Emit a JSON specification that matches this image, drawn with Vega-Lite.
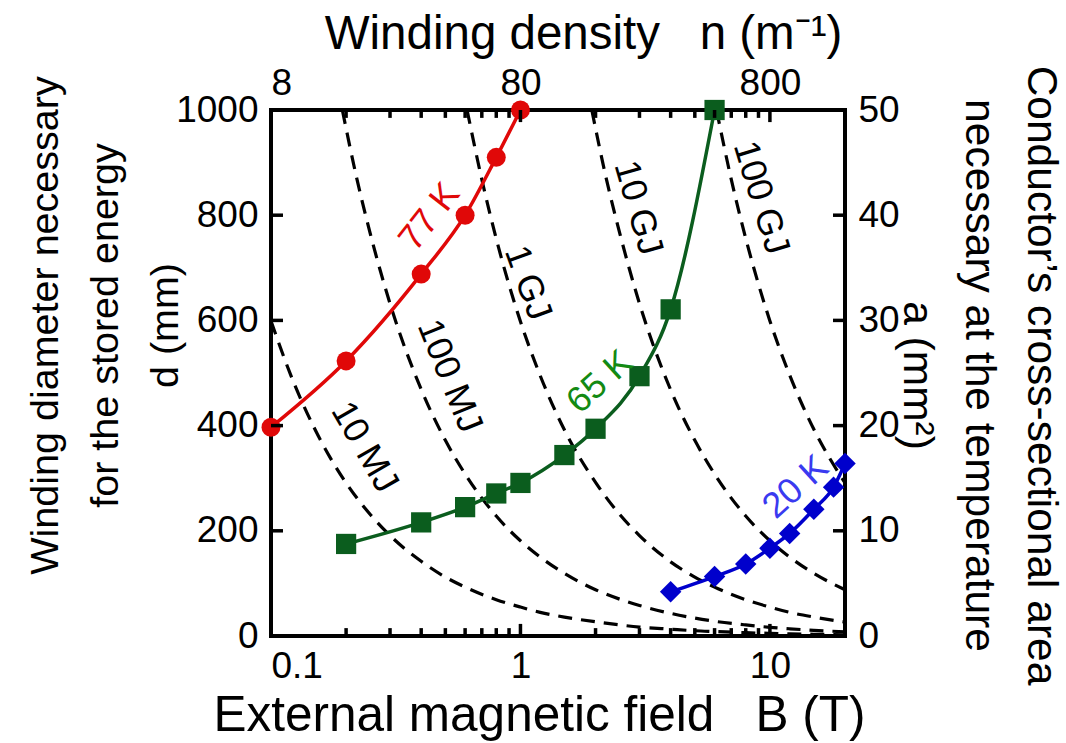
{
  "$schema": "https://vega.github.io/schema/vega-lite/v6.json",
  "width": 574,
  "height": 526,
  "autosize": {"type": "none"},
  "padding": {"left": 271, "top": 110, "right": 221, "bottom": 107},
  "background": "white",
  "config": {
    "font": "Liberation Sans",
    "view": {"stroke": "#000", "strokeWidth": 4},
    "axis": {"domain": false, "grid": false, "ticks": false, "labelColor": "#000", "titleColor": "#000", "labelFont": "Liberation Sans", "titleFont": "Liberation Sans", "labelFontSize": 37, "titleFontWeight": "normal"}
  },
  "datasets": {
    "energy": [
      {"E": "10 MJ", "B": 0.1, "d": 599}, {"E": "10 MJ", "B": 0.12, "d": 496}, {"E": "10 MJ", "B": 0.15, "d": 393}, {"E": "10 MJ", "B": 0.2, "d": 291}, {"E": "10 MJ", "B": 0.25, "d": 231}, {"E": "10 MJ", "B": 0.3, "d": 191}, {"E": "10 MJ", "B": 0.4, "d": 142}, {"E": "10 MJ", "B": 0.5, "d": 112}, {"E": "10 MJ", "B": 0.6, "d": 93}, {"E": "10 MJ", "B": 0.8, "d": 69}, {"E": "10 MJ", "B": 1, "d": 55}, {"E": "10 MJ", "B": 1.2, "d": 45}, {"E": "10 MJ", "B": 1.5, "d": 36}, {"E": "10 MJ", "B": 2, "d": 27}, {"E": "10 MJ", "B": 2.5, "d": 21}, {"E": "10 MJ", "B": 3, "d": 17}, {"E": "10 MJ", "B": 4, "d": 13}, {"E": "10 MJ", "B": 5, "d": 10}, {"E": "10 MJ", "B": 6, "d": 8.5}, {"E": "10 MJ", "B": 8, "d": 6.3}, {"E": "10 MJ", "B": 10, "d": 5}, {"E": "10 MJ", "B": 12, "d": 4.1}, {"E": "10 MJ", "B": 15, "d": 3.3}, {"E": "10 MJ", "B": 20, "d": 2.4},
      {"E": "100 MJ", "B": 0.1932, "d": 1000}, {"E": "100 MJ", "B": 0.22, "d": 873}, {"E": "100 MJ", "B": 0.25, "d": 765}, {"E": "100 MJ", "B": 0.3, "d": 632}, {"E": "100 MJ", "B": 0.4, "d": 469}, {"E": "100 MJ", "B": 0.5, "d": 372}, {"E": "100 MJ", "B": 0.6, "d": 308}, {"E": "100 MJ", "B": 0.8, "d": 228}, {"E": "100 MJ", "B": 1, "d": 181}, {"E": "100 MJ", "B": 1.2, "d": 150}, {"E": "100 MJ", "B": 1.5, "d": 119}, {"E": "100 MJ", "B": 2, "d": 88}, {"E": "100 MJ", "B": 2.5, "d": 70}, {"E": "100 MJ", "B": 3, "d": 58}, {"E": "100 MJ", "B": 4, "d": 43}, {"E": "100 MJ", "B": 5, "d": 34}, {"E": "100 MJ", "B": 6, "d": 28}, {"E": "100 MJ", "B": 8, "d": 21}, {"E": "100 MJ", "B": 10, "d": 16.5}, {"E": "100 MJ", "B": 12, "d": 13.7}, {"E": "100 MJ", "B": 15, "d": 10.8}, {"E": "100 MJ", "B": 20, "d": 8},
      {"E": "1 GJ", "B": 0.611, "d": 1000}, {"E": "1 GJ", "B": 0.7, "d": 868}, {"E": "1 GJ", "B": 0.8, "d": 755}, {"E": "1 GJ", "B": 1, "d": 598}, {"E": "1 GJ", "B": 1.2, "d": 495}, {"E": "1 GJ", "B": 1.5, "d": 392}, {"E": "1 GJ", "B": 2, "d": 292}, {"E": "1 GJ", "B": 2.5, "d": 231}, {"E": "1 GJ", "B": 3, "d": 191}, {"E": "1 GJ", "B": 4, "d": 141}, {"E": "1 GJ", "B": 5, "d": 112}, {"E": "1 GJ", "B": 6, "d": 93}, {"E": "1 GJ", "B": 8, "d": 69}, {"E": "1 GJ", "B": 10, "d": 55}, {"E": "1 GJ", "B": 12, "d": 45}, {"E": "1 GJ", "B": 15, "d": 36}, {"E": "1 GJ", "B": 20, "d": 26.5},
      {"E": "10 GJ", "B": 1.932, "d": 1000}, {"E": "10 GJ", "B": 2.2, "d": 873}, {"E": "10 GJ", "B": 2.5, "d": 766}, {"E": "10 GJ", "B": 3, "d": 632}, {"E": "10 GJ", "B": 4, "d": 468}, {"E": "10 GJ", "B": 5, "d": 372}, {"E": "10 GJ", "B": 6, "d": 308}, {"E": "10 GJ", "B": 8, "d": 228}, {"E": "10 GJ", "B": 10, "d": 181}, {"E": "10 GJ", "B": 12, "d": 150}, {"E": "10 GJ", "B": 15, "d": 119}, {"E": "10 GJ", "B": 20, "d": 88},
      {"E": "100 GJ", "B": 6.11, "d": 1000}, {"E": "100 GJ", "B": 7, "d": 868}, {"E": "100 GJ", "B": 8, "d": 756}, {"E": "100 GJ", "B": 10, "d": 599}, {"E": "100 GJ", "B": 12, "d": 496}, {"E": "100 GJ", "B": 15, "d": 393}, {"E": "100 GJ", "B": 20, "d": 291}
    ],
    "series": [
      {"T": "77 K", "B": 0.1, "d": 397}, {"T": "77 K", "B": 0.2, "d": 523}, {"T": "77 K", "B": 0.4, "d": 688}, {"T": "77 K", "B": 0.6, "d": 800}, {"T": "77 K", "B": 0.8, "d": 910}, {"T": "77 K", "B": 1, "d": 1000},
      {"T": "65 K", "B": 0.2, "d": 175}, {"T": "65 K", "B": 0.4, "d": 216}, {"T": "65 K", "B": 0.6, "d": 245}, {"T": "65 K", "B": 0.8, "d": 271}, {"T": "65 K", "B": 1, "d": 291}, {"T": "65 K", "B": 1.5, "d": 344}, {"T": "65 K", "B": 2, "d": 394}, {"T": "65 K", "B": 3, "d": 494}, {"T": "65 K", "B": 4, "d": 621}, {"T": "65 K", "B": 6, "d": 1000},
      {"T": "20 K", "B": 4, "d": 84}, {"T": "20 K", "B": 6, "d": 113}, {"T": "20 K", "B": 8, "d": 137}, {"T": "20 K", "B": 10, "d": 167}, {"T": "20 K", "B": 12, "d": 195}, {"T": "20 K", "B": 15, "d": 241}, {"T": "20 K", "B": 18, "d": 283}, {"T": "20 K", "B": 20, "d": 328}
    ],
    "labels": [
      {"label": "77 K", "B": 0.4325, "d": 797},
      {"label": "65 K", "B": 2.08, "d": 483},
      {"label": "20 K", "B": 12.7, "d": 283},
      {"label": "10 MJ", "B": 0.237, "d": 359},
      {"label": "100 MJ", "B": 0.52, "d": 494},
      {"label": "1 GJ", "B": 1.07, "d": 671},
      {"label": "10 GJ", "B": 2.96, "d": 814},
      {"label": "100 GJ", "B": 9.21, "d": 833}
    ],
    "minorTicksX": [{"B": 0.2}, {"B": 0.3}, {"B": 0.4}, {"B": 0.5}, {"B": 0.6}, {"B": 0.7}, {"B": 0.8}, {"B": 0.9}, {"B": 2}, {"B": 3}, {"B": 4}, {"B": 5}, {"B": 6}, {"B": 7}, {"B": 8}, {"B": 9}],
    "majorTicksX": [{"B": 1}, {"B": 10}],
    "ticksY": [{"d": 200}, {"d": 400}, {"d": 600}, {"d": 800}],
    "secondary": [{"n": 8, "a": 0}, {"n": 1600, "a": 50}]
  },
  "layer": [
    {
      "layer": [
        {
          "data": {"name": "energy"},
          "mark": {"type": "line", "color": "#000", "strokeWidth": 3.2, "strokeDash": [14, 9], "interpolate": "monotone"},
          "encoding": {
            "x": {"field": "B", "type": "quantitative", "scale": {"type": "log", "domain": [0.1, 20]},
              "axis": {"orient": "bottom", "values": [0.1, 1, 10],
                "labelExpr": "datum.value==0.1?'0.1':datum.value==1?'1':datum.value==10?'10':''",
                "labelPadding": 12, "labelFontSize": 37,
                "title": "External magnetic field\u00a0\u00a0\u00a0B (T)", "titleFontSize": 49.5, "titleX": 268, "titleY": 94, "titleBaseline": "alphabetic", "titleAlign": "center", "titleAnchor": "middle"}},
            "y": {"field": "d", "type": "quantitative", "scale": {"domain": [0, 1000]},
              "axis": {"orient": "left", "values": [0, 200, 400, 600, 800, 1000], "format": "d", "labelPadding": 13, "labelFontSize": 37,
                "title": ["Winding diameter necessary", "for the stored energy", "d (mm)"], "titleFontSize": 39.5, "titleLineHeight": 60, "titleAngle": -90, "titleX": -214, "titleY": 215, "titleBaseline": "alphabetic", "titleAlign": "center", "titleAnchor": "middle"}},
            "detail": {"field": "E", "type": "nominal"}
          }
        },
        {
          "data": {"name": "series"},
          "mark": {"type": "line", "strokeWidth": 3.5, "interpolate": "monotone"},
          "encoding": {
            "x": {"field": "B", "type": "quantitative", "scale": {"type": "log", "domain": [0.1, 20]}},
            "y": {"field": "d", "type": "quantitative", "scale": {"domain": [0, 1000]}},
            "color": {"field": "T", "type": "nominal", "scale": {"domain": ["77 K", "65 K", "20 K"], "range": ["#e00808", "#0b5d1e", "#0000cc"]}, "legend": null}
          }
        },
        {
          "data": {"name": "series"},
          "mark": {"type": "point", "filled": true, "opacity": 1},
          "encoding": {
            "x": {"field": "B", "type": "quantitative", "scale": {"type": "log", "domain": [0.1, 20]}},
            "y": {"field": "d", "type": "quantitative", "scale": {"domain": [0, 1000]}},
            "color": {"field": "T", "type": "nominal", "scale": {"domain": ["77 K", "65 K", "20 K"], "range": ["#e00808", "#0b5d1e", "#0000cc"]}, "legend": null},
            "shape": {"field": "T", "type": "nominal", "scale": {"domain": ["77 K", "65 K", "20 K"], "range": ["circle", "square", "diamond"]}, "legend": null},
            "size": {"field": "T", "type": "ordinal", "scale": {"domain": ["77 K", "65 K", "20 K"], "range": [360, 460, 300]}, "legend": null}
          }
        },
        {
          "data": {"name": "labels"},
          "mark": {"type": "text", "fontSize": 36, "align": "center", "baseline": "middle", "font": "Liberation Sans"},
          "encoding": {
            "x": {"field": "B", "type": "quantitative", "scale": {"type": "log", "domain": [0.1, 20]}},
            "y": {"field": "d", "type": "quantitative", "scale": {"domain": [0, 1000]}},
            "text": {"field": "label"},
            "color": {"condition": [
              {"test": "datum.label=='77 K'", "value": "#e00808"},
              {"test": "datum.label=='65 K'", "value": "#138a13"},
              {"test": "datum.label=='20 K'", "value": "#3a3af0"}], "value": "#000"},
            "angle": {"condition": [
              {"test": "datum.label=='77 K'", "value": 308},
              {"test": "datum.label=='65 K'", "value": 318},
              {"test": "datum.label=='20 K'", "value": 318},
              {"test": "datum.label=='10 MJ'", "value": 60},
              {"test": "datum.label=='100 MJ'", "value": 68},
              {"test": "datum.label=='1 GJ'", "value": 70},
              {"test": "datum.label=='10 GJ'", "value": 74},
              {"test": "datum.label=='100 GJ'", "value": 73}], "value": 0}
          }
        },
        {
          "data": {"name": "minorTicksX"},
          "mark": {"type": "rule", "stroke": "#000", "strokeWidth": 3.5},
          "encoding": {
            "x": {"field": "B", "type": "quantitative", "scale": {"type": "log", "domain": [0.1, 20]}},
            "y": {"datum": 0, "type": "quantitative", "scale": {"domain": [0, 1000]}},
            "y2": {"datum": 15}
          }
        },
        {
          "data": {"name": "minorTicksX"},
          "mark": {"type": "rule", "stroke": "#000", "strokeWidth": 3.5},
          "encoding": {
            "x": {"field": "B", "type": "quantitative", "scale": {"type": "log", "domain": [0.1, 20]}},
            "y": {"datum": 1000, "type": "quantitative", "scale": {"domain": [0, 1000]}},
            "y2": {"datum": 985}
          }
        },
        {
          "data": {"name": "majorTicksX"},
          "mark": {"type": "rule", "stroke": "#000", "strokeWidth": 3.5},
          "encoding": {
            "x": {"field": "B", "type": "quantitative", "scale": {"type": "log", "domain": [0.1, 20]}},
            "y": {"datum": 0, "type": "quantitative", "scale": {"domain": [0, 1000]}},
            "y2": {"datum": 23}
          }
        },
        {
          "data": {"name": "majorTicksX"},
          "mark": {"type": "rule", "stroke": "#000", "strokeWidth": 3.5},
          "encoding": {
            "x": {"field": "B", "type": "quantitative", "scale": {"type": "log", "domain": [0.1, 20]}},
            "y": {"datum": 1000, "type": "quantitative", "scale": {"domain": [0, 1000]}},
            "y2": {"datum": 977}
          }
        },
        {
          "data": {"name": "ticksY"},
          "mark": {"type": "rule", "stroke": "#000", "strokeWidth": 3.5},
          "encoding": {
            "x": {"datum": 0.1, "type": "quantitative", "scale": {"type": "log", "domain": [0.1, 20]}},
            "x2": {"datum": 0.1117},
            "y": {"field": "d", "type": "quantitative", "scale": {"domain": [0, 1000]}}
          }
        },
        {
          "data": {"name": "ticksY"},
          "mark": {"type": "rule", "stroke": "#000", "strokeWidth": 3.5},
          "encoding": {
            "x": {"datum": 20, "type": "quantitative", "scale": {"type": "log", "domain": [0.1, 20]}},
            "x2": {"datum": 17.9},
            "y": {"field": "d", "type": "quantitative", "scale": {"domain": [0, 1000]}}
          }
        }
      ]
    },
    {
      "data": {"name": "secondary"},
      "mark": {"type": "point", "opacity": 0},
      "encoding": {
        "x": {"field": "n", "type": "quantitative", "scale": {"type": "log", "domain": [8, 1600]},
          "axis": {"orient": "top", "values": [8, 80, 800],
            "labelExpr": "datum.value==8?'8':datum.value==80?'80':datum.value==800?'800':''",
            "labelAlign": {"condition": {"test": "datum.value==8", "value": "left"}, "value": "center"},
            "labelPadding": 8, "labelFontSize": 37,
            "title": "Winding density\u00a0\u00a0\u00a0n (m⁻¹)", "titleFontSize": 47.5, "titleX": 312, "titleY": -62, "titleBaseline": "alphabetic", "titleAlign": "center", "titleAnchor": "middle"}},
        "y": {"field": "a", "type": "quantitative", "scale": {"domain": [0, 50]},
          "axis": {"orient": "right", "values": [0, 10, 20, 30, 40, 50], "labelPadding": 13, "labelFontSize": 37,
            "title": ["Conductor’s cross-sectional area", "necessary at the temperature", "a (mm²)"], "titleFontSize": 42.5, "titleLineHeight": 62, "titleAngle": 90, "titleX": 182, "titleY": 265, "titleBaseline": "alphabetic", "titleAlign": "center", "titleAnchor": "middle"}}
      }
    }
  ],
  "resolve": {"scale": {"x": "independent", "y": "independent"}}
}
